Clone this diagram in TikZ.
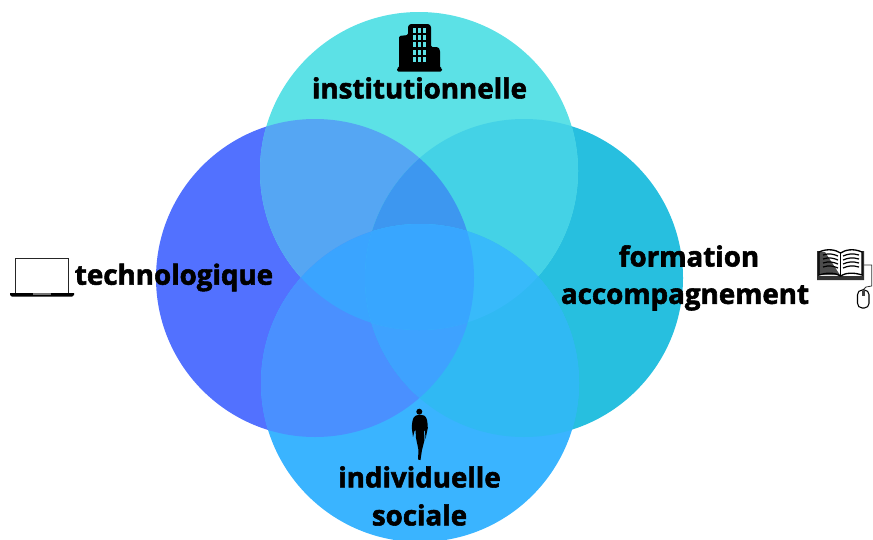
\documentclass[tikz,border=0pt]{standalone}
\usepackage{fontspec}
\setmainfont{Open Sans}[BoldFeatures={FakeBold=2}]
\usepackage{xcolor}
\usetikzlibrary{positioning}
\definecolor{toponly}{HTML}{5CE1E6}
\definecolor{leftonly}{HTML}{5271FF}
\definecolor{rightonly}{HTML}{27BFDF}
\definecolor{bottomonly}{HTML}{3AB4FF}
\definecolor{topleft}{HTML}{55A6F3}
\definecolor{topright}{HTML}{44D2E6}
\definecolor{topboth}{HTML}{3D97F0}
\definecolor{bottomleft}{HTML}{4A90FF}
\definecolor{bottomright}{HTML}{30B9F3}
\definecolor{bottomboth}{HTML}{3EA2FF}
\definecolor{lensleft}{HTML}{3AA4FF}
\definecolor{lensright}{HTML}{38BAFA}
\definecolor{lensboth}{HTML}{38A6FF}
\newcommand{\techpath}{(techno.center) circle (159)}
\newcommand{\formpath}{(forma.center) circle (159)}
\newcommand{\instpath}{(insti.center) circle (159)}
\newcommand{\indvpath}{(indiv.center) circle (159)}
\tikzset{
	venn/.style={circle, minimum size=238.5pt, inner sep=0pt, outer sep=0pt},
	word/.style={font=\fontsize{20.8pt}{28.5pt}\selectfont\bfseries, align=center, text=black, inner sep=0pt}
}

\begin{document}
\begin{tikzpicture}[x=0.75pt, y=-0.75pt]
	\useasboundingbox (0,0) rectangle (873,539);
	% circles
	\node[venn, fill=leftonly] at (315,278) (techno) {};
	\node[venn, fill=rightonly] at (524,278) (forma) {};
	\node[venn, fill=toponly] at (419,171) (insti) {};
	\node[venn, fill=bottomonly] at (420,383) (indiv) {};
	% overlaps of the top circle
	\begin{scope}
		\clip \instpath;
		\fill[topleft] \techpath;
		\fill[topright] \formpath;
		\clip \techpath;
		\fill[topboth] \formpath;
	\end{scope}
	% overlaps of the bottom circle
	\begin{scope}
		\clip \indvpath;
		\fill[bottomleft] \techpath;
		\fill[bottomright] \formpath;
		\begin{scope}
			\clip \techpath;
			\fill[bottomboth] \formpath;
			\fill[lensleft] \instpath;
		\end{scope}
		\begin{scope}
			\clip \formpath;
			\fill[lensright] \instpath;
			\clip \techpath;
			\fill[lensboth] \instpath;
		\end{scope}
	\end{scope}
	% labels
	\node[word] at (419.5,88) (instilabel) {institutionnelle};
	\node[word] at (174,277.5) (technolabel) {technologique};
	\node[word] at (689,256) (formalabel) {formation};
	\node[word] at (685,298) (accolabel) {accompagnement};
	\node[word] at (419.5,496) (indivlabel) {individuelle\\sociale};
	% building
	\fill[black, rounded corners=1pt] (397,71.5) -- (397,68) -- (399,68) -- (399,36) -- (408,35) -- (408,26) -- (410,24) -- (429,24) -- (431,26) -- (431,47) -- (438,47) -- (440,50) -- (440,68) -- (442,68) -- (442,71.5) -- cycle;
	\foreach \c in {412.5,417.5,422.5}
		\foreach \r in {27.7,35,42.3,49.7,56.7}
			\fill[toponly] (\c,\r) rectangle (\c+3.7,\r+5);
	% laptop
	\draw[black!85, line width=1pt, fill=white] (15.7,293) -- (15.7,258.3) -- (68.3,258.3) -- (68.3,293);
	\fill[black] (10,293) -- (74,293) -- (74,295) -- (72,296.7) -- (12,296.7) -- (10,295) -- cycle;
	\fill[black!55] (33,293) rectangle (51,295);
	% book
	\fill[black!80] (817,280) -- (817,251) -- (819,251) -- (819,276) -- (862,276) -- (862,251) -- (864,251) -- (864,280) -- cycle;
	\fill[black!70] (819,252) -- (825,252) -- (840,275) -- (819,275) -- cycle;
	\draw[black, line width=1pt] (819,252) .. controls (828,248) and (836,250) .. (840.5,253) .. controls (845,250) and (853,248) .. (862,252) -- (862,275) .. controls (853,272) and (845,273) .. (840.5,276) .. controls (836,273) and (828,272) .. (819,275) -- cycle;
	\draw[black, line width=1pt] (840.5,253) -- (840.5,276);
	\foreach \r in {255,259,263,267}{
		\draw[black, line width=0.9pt] (823,\r) .. controls (829,\r-2) and (833,\r-1) .. (838,\r+1);
		\draw[black, line width=0.9pt] (843,\r+1) .. controls (848,\r-1) and (852,\r-2) .. (859,\r);
	}
	% mouse
	\draw[black!80, line width=0.6pt] (864,265) -- (871.7,265) -- (871.7,286) -- (866,287) -- (863,290);
	\draw[black, line width=0.8pt, fill=white, rounded corners=3.5pt] (857.5,290) rectangle (869,308);
	\fill[black!75] (862,291) rectangle (864.5,296);
	% person
	\fill[black] (419.3,411.7) circle (3);
	\fill[black] (416,415.5) .. controls (419,414.5) and (421,414.5) .. (424,415.5) .. controls (427,417) and (427.5,421) .. (427.8,428) -- (425.5,439) -- (425,431) -- (424,430) -- (424.5,440) -- (422,450) -- (420.5,460) -- (418,459.5) -- (418.5,450) -- (416,438) -- (415.5,430) -- (414.5,431) -- (413,437) -- (411.8,428) .. controls (412,422) and (412.5,417) .. (416,415.5) -- cycle;
\end{tikzpicture}
\end{document}
